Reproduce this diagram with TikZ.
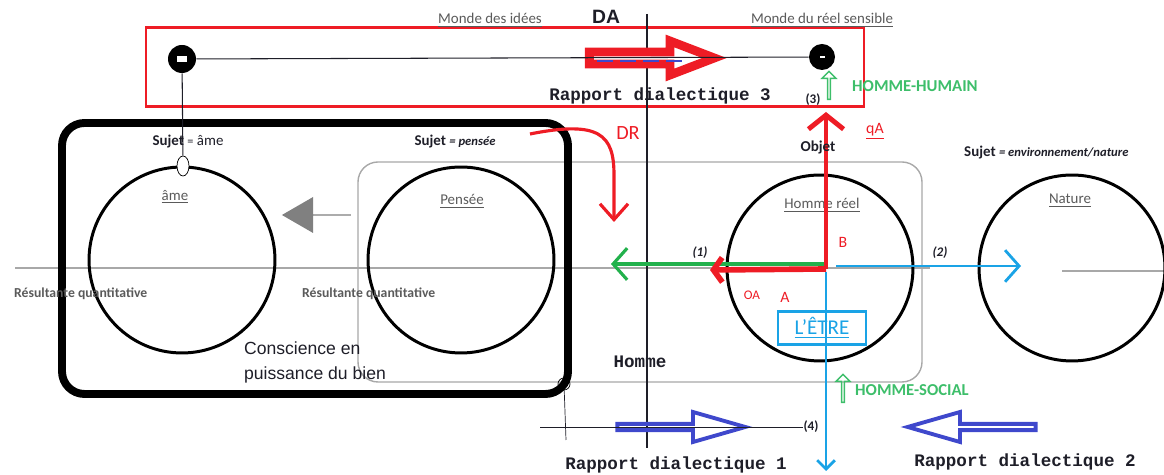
\documentclass[tikz,border=0pt]{standalone}
\usepackage{fontspec}
\setmainfont{Carlito}
\newfontfamily\arialfont{Liberation Sans}
\newfontfamily\courierfont{Liberation Mono}
\usepackage{tikz}
\usetikzlibrary{positioning,arrows.meta,shapes.geometric,shapes.arrows}
\definecolor{ink}{HTML}{1E1E28}
\definecolor{rougevif}{HTML}{EE1C25}
\definecolor{vertfleche}{HTML}{22B14C}
\definecolor{vertclair}{HTML}{3DBE6A}
\definecolor{bleuciel}{HTML}{1AA3E6}
\definecolor{bleufonce}{HTML}{3F48CC}
\definecolor{grisligne}{HTML}{A8A8A8}
\definecolor{grisfleche}{HTML}{808080}
\definecolor{gristexte}{HTML}{5A5A5A}

\begin{document}
\begin{tikzpicture}[x=0.02cm, y=-0.02cm,
    cercle/.style={circle, draw=black, line width=1.7pt, minimum size=3.72cm, inner sep=0pt},
    point/.style={circle, fill=black, inner sep=0pt, minimum size=#1},
    titre/.style={text=gristexte, font=\fontsize{8.5}{10}\selectfont},
    sujet/.style={text=ink, font=\fontsize{8.5}{10}\selectfont},
    resultante/.style={text=gristexte, font=\fontsize{7.8}{9}\selectfont\bfseries},
    rapport/.style={text=ink, font=\courierfont\fontsize{10}{12}\selectfont\bfseries},
    rouge/.style={text=rougevif, font=\fontsize{9}{10}\selectfont},
    vertgras/.style={text=vertclair, font=\fontsize{9.5}{11}\selectfont\bfseries},
    numero/.style={text=ink, font=\fontsize{7.5}{9}\selectfont\bfseries\itshape},
    icone/.style={single arrow, draw=vertclair, line width=0.8pt, shape border rotate=90,
      minimum height=0.56cm, minimum width=0.28cm, single arrow head extend=0.06cm, inner sep=0pt},
    creuse/.style={single arrow, draw=bleufonce, line width=2.2pt, minimum height=2.56cm,
      minimum width=0.6cm, single arrow head extend=0.15cm, single arrow tip angle=32, inner sep=0pt},
  ]
  \useasboundingbox (0,0) rectangle (1164,475);

  % cadres de fond
  \draw[grisligne, line width=0.8pt, rounded corners=0.4cm] (358,162) rectangle (922,382);
  \coordinate (axe-gauche) at (15,268);
  \coordinate (axe-droite) at (930,268);
  \draw[grisligne, line width=1pt] (axe-gauche) -- (axe-droite);
  \coordinate (nature-axe) at (1062,271);
  \coordinate (nature-bord) at (1164,271);
  \draw[grisligne, line width=1pt] (nature-axe) -- (nature-bord);
  \draw[black, line width=4.5pt, rounded corners=0.45cm] (62,123) rectangle (568,394);
  \draw[rougevif, line width=1.7pt] (146,28) rectangle (864,107);

  % cercles
  \node[cercle] (ame) at (182,260) {};
  \node[cercle] (pensee) at (461,260) {};
  \node[cercle] (homme-reel) at (820,268) {};
  \node[cercle] (nature) at (1072,268) {};
  \node[ellipse, draw, thin, fill=white, minimum width=0.24cm, minimum height=0.4cm, inner sep=0pt] (ame-joint) at (183,166) {};

  % ligne DA
  \coordinate (da-haut) at (647,14);
  \coordinate (da-bas) at (647,448);
  \draw[ink, line width=1.7pt] (da-haut) -- (da-bas);

  % monde des idees / monde du reel
  \node[titre] (monde-idees) at (490,20) {\underline{Monde des idées}};
  \node[titre] (monde-reel) at (822,20) {\underline{Monde du réel sensible}};
  \node[text=ink, font=\arialfont\fontsize{11}{12}\selectfont\bfseries] (da) at (606,17) {DA};
  \node[single arrow, draw=rougevif, fill=white, line width=5pt, minimum height=2.5cm,
    minimum width=0.68cm, single arrow head extend=0.16cm, single arrow tip angle=42,
    inner sep=0pt] (fleche3) at (644,58) {};
  \draw[bleufonce, line width=1.3pt, dash pattern=on 9pt off 4pt]
    ([xshift=0.25cm, yshift=-0.06cm]fleche3.west) -- ([xshift=-0.8cm, yshift=-0.06cm]fleche3.east);
  \node[point=0.56cm] (point-idees) at (182,59) {};
  \node[point=0.52cm] (point-reel) at (822,57) {};
  \node[fill=white, minimum width=0.2cm, minimum height=0.12cm, inner sep=0pt] (marque-idees) at (point-idees) {};
  \node[fill=white, minimum width=0.1cm, minimum height=0.04cm, inner sep=0pt] (marque-reel) at (point-reel) {};
  \draw[ink, line width=0.6pt] (point-idees) -- (point-reel);
  \draw[ink, line width=0.6pt] (point-idees) -- (ame-joint);
  \node[rapport] (rapport3) at (660,96) {Rapport dialectique 3};
  \node[numero, font=\fontsize{7.5}{9}\selectfont\bfseries] (num3) at (813,100) {(3)};
  \node[icone] (icone-humain) at (829,86) {};
  \node[vertgras, anchor=west] (humain) at (846,86) {HOMME-HUMAIN};

  % sujets
  \node[sujet] (sujet-ame) at (188,142) {\textbf{Sujet} {\scriptsize =} âme};
  \node[sujet] (sujet-pensee) at (455,142) {\textbf{Sujet} {\fontsize{7.2}{9}\selectfont\bfseries\itshape = pensée}};
  \node[sujet, anchor=west] (sujet-nature) at (958,153)
    {\textbf{Sujet} {\fontsize{7.2}{9}\selectfont\bfseries\itshape = environnement/nature}};
  \node[titre] (lbl-ame) at (175,197) {\underline{âme}};
  \node[titre] (lbl-pensee) at (462,201) {\underline{Pensée}};
  \node[titre] (lbl-homme) at (822,205) {\underline{Homme réel}};
  \node[titre] (lbl-nature) at (1070,201) {\underline{Nature}};
  \node[resultante, anchor=west] (res1) at (8,294) {Résultante quantitative};
  \node[resultante, anchor=west] (res2) at (296,294) {Résultante quantitative};

  % fleche grise
  \node[single arrow, fill=grisfleche, shape border rotate=180, minimum height=1.38cm,
    minimum width=0.72cm, single arrow head extend=0.18cm, single arrow tip angle=60,
    inner sep=0pt] (fleche-grise) at (317,215) {};

  % DR
  \coordinate (dr-depart) at (530,134);
  \coordinate (dr-pointe) at (614,222);
  \draw[rougevif, line width=1.8pt, -{Straight Barb[length=9pt,width=16pt]}]
    (dr-depart) .. controls (600,120) and (614,135) .. (614,175) -- (dr-pointe);
  \node[rouge, font=\fontsize{11.5}{12}\selectfont] (dr) at (628,133) {DR};

  % homme reel : axes
  \coordinate (centre-etre) at (826,269);
  \coordinate (depart-1) at (826,264);
  \coordinate (pointe-1) at (611,264);
  \coordinate (depart-2) at (836,266);
  \coordinate (pointe-2) at (1021,266);
  \coordinate (sommet-objet) at (826,112);
  \coordinate (pointe-oa) at (710,270);
  \coordinate (depart-bas) at (826,272);
  \coordinate (pointe-bas) at (826,471);
  \draw[vertfleche, line width=1.8pt, -{Straight Barb[length=8pt,width=18pt]}] (depart-1) -- (pointe-1);
  \draw[bleuciel, line width=1.6pt, -{Straight Barb[length=8pt,width=18pt]}] (depart-2) -- (pointe-2);
  \draw[rougevif, line width=3.2pt, -{Straight Barb[length=5pt,width=14pt]}] (centre-etre) -- (pointe-oa);
  \draw[rougevif, line width=2.8pt, -{Straight Barb[length=8pt,width=20pt]}] (centre-etre) -- (sommet-objet);
  \node[rouge, anchor=west] (qa) at (860,131) {\underline{qA}};
  \node[text=ink, font=\fontsize{8.6}{10}\selectfont\bfseries] (objet) at (818,147) {Objet};
  \node[numero] (num1) at (700,253) {(1)};
  \node[numero] (num2) at (940,253) {(2)};
  \node[rouge] (lbl-b) at (843,242) {B};
  \node[rouge, font=\fontsize{7.5}{9}\selectfont] (lbl-oa) at (752,295) {OA};
  \node[rouge] (lbl-a) at (785,297) {A};
  \node[draw=bleuciel, fill=white, line width=1.6pt, text=bleuciel, minimum width=1.76cm,
    minimum height=0.66cm, font=\fontsize{12}{13}\selectfont] (etre) at (822,328) {\underline{L'ÊTRE}};
  \draw[bleuciel, line width=1.6pt, -{Straight Barb[length=5pt,width=10pt]}] (depart-bas) -- (pointe-bas);
  \node[rapport] (homme) at (640,362) {Homme};
  \node[text=ink, align=left, anchor=north west, font=\arialfont\fontsize{10}{14}\selectfont]
    (conscience) at (238,336) {Conscience en\\puissance du bien};
  \node[icone] (icone-social) at (843,389) {};
  \node[vertgras, anchor=west] (social) at (849,390) {HOMME-SOCIAL};

  % rapports dialectiques 1 et 2
  \coordinate (axe4-gauche) at (540,427);
  \coordinate (axe4-droite) at (803,427);
  \coordinate (coin-bas) at (566,440);
  \node[circle, draw, thin, minimum size=0.24cm, inner sep=0pt] (coin) at (564,384) {};
  \draw[ink, thin] (coin) -- (coin-bas);
  \node[creuse] (fleche1) at (676,427) {};
  \node[creuse, shape border rotate=180] (fleche2) at (977,427) {};
  \draw[ink, thin] (axe4-gauche) -- (axe4-droite);
  \node[numero, font=\fontsize{7.5}{9}\selectfont\bfseries] (num4) at (811,427) {(4)};
  \node[rapport] (rapport1) at (676,465) {Rapport dialectique 1};
  \node[rapport] (rapport2) at (1025,462) {Rapport dialectique 2};
\end{tikzpicture}
\end{document}
